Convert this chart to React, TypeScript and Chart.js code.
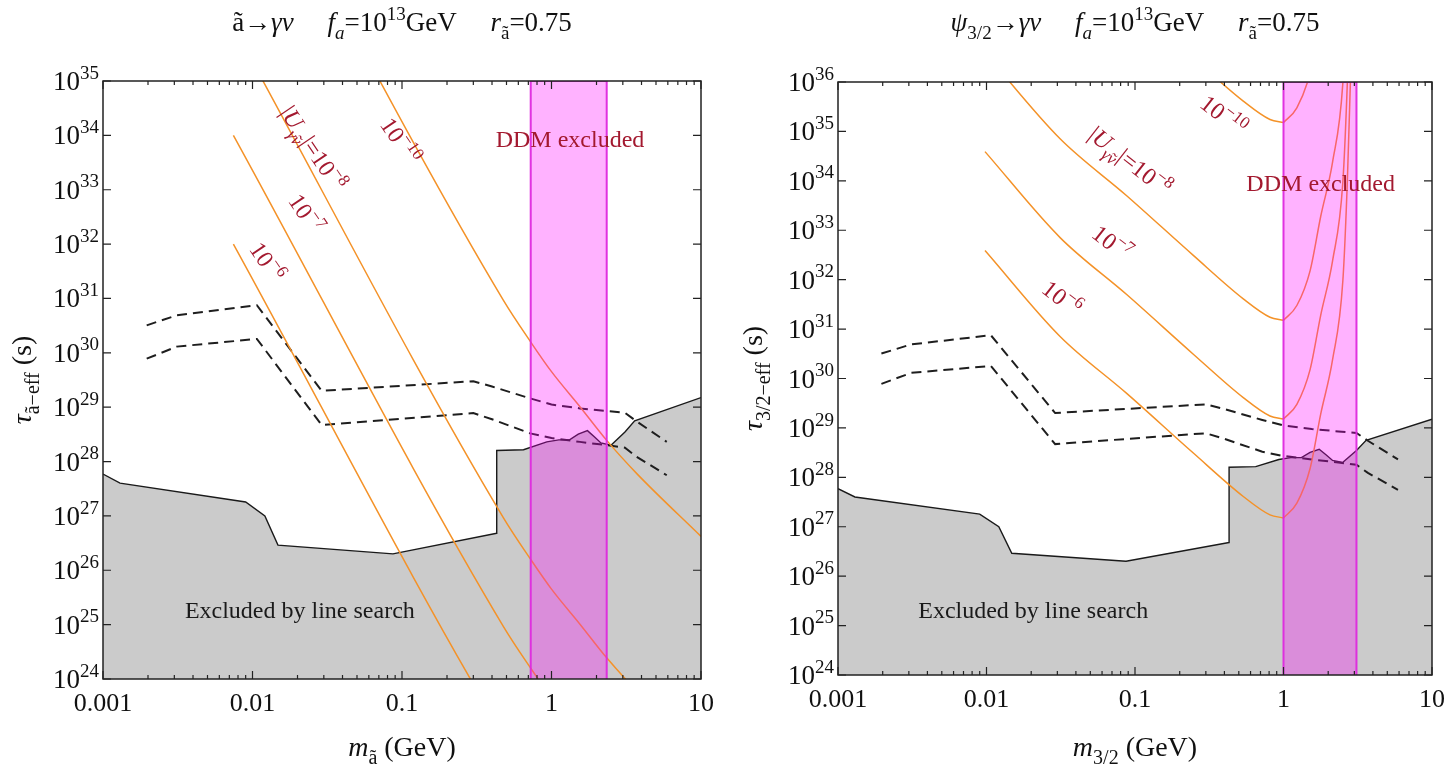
import React, { useEffect, useRef } from 'react';
import { Chart, registerables } from 'chart.js';

Chart.register(...registerables);

const FONT = '"Liberation Serif", "DejaVu Serif", serif';

// ---------- shared constraints (same in both panels) ----------
const boundaryMass = [0.001, 0.0013, 0.009, 0.0121, 0.0148, 0.087, 0.43, 0.4301, 0.65, 0.93, 1.12, 1.32, 1.51, 1.74, 1.95, 2.14, 2.5, 3.1, 3.6, 10];
const boundaryTau = [5.9e27, 4.0e27, 1.8e27, 1.0e27, 2.9e26, 2.0e26, 4.8e26, 1.6e28, 1.65e28, 2.3e28, 2.5e28, 2.5e28, 3.2e28, 3.7e28, 2.8e28, 2.2e28, 2.0e28, 3.5e28, 5.6e28, 1.5e29];

const dashedMass = [0.00196, 0.00311, 0.0107, 0.029, 0.3, 0.4, 0.72, 1.0, 1.55, 2.34, 3.1, 3.7, 5.9];
const dashedUpperTau = [3.2e30, 4.9e30, 7.5e30, 2.0e29, 3.0e29, 2.4e29, 1.45e29, 1.12e29, 9.5e28, 8.5e28, 7.9e28, 5.5e28, 2.3e28];
const dashedLowerTau = [7.8e29, 1.3e30, 1.8e30, 4.7e28, 7.8e28, 6.0e28, 3.3e28, 2.7e28, 2.3e28, 2.0e28, 1.8e28, 1.23e28, 5.6e27];

// ---------- left panel: axino ----------
const leftLineMass = [0.00745, 0.476, 0.738, 1.0, 1.55, 2.34, 3.72, 10];
const leftTauU10 = [1e40, 9.3e30, 1.48e30, 4.5e29, 1.02e29, 2.45e28, 6.0e27, 4.2e26];
const leftTauU8 = [1e36, 9.3e26, 1.48e26, 4.5e25, 1.02e25, 2.45e24, 6.0e23, 4.2e22];
const leftTauU7 = [1e34, 9.3e24, 1.48e24, 4.5e23, 1.02e23, 2.45e22, 6.0e21, 4.2e20];
const leftTauU6 = [1e32, 9.3e22, 1.48e22, 4.5e21, 1.02e21, 2.45e20, 6.0e19, 4.2e18];
const leftBand = [0.726, 2.34];
const leftYExponents = [24, 25, 26, 27, 28, 29, 30, 31, 32, 33, 34, 35];

// ---------- right panel: gravitino ----------
const rightLineMass = [0.00977, 0.0313, 0.0879, 0.247, 0.536, 0.811, 1.0, 1.23, 1.51, 1.78, 2.14, 2.51, 2.69, 2.82, 2.95];
const rightTauU6 = [3.9e32, 7.1e30, 5.0e29, 3.1e28, 4.1e27, 1.74e27, 1.51e27, 3.0e27, 1.51e28, 1.9e29, 2.4e30, 9.5e31, 9.5e33, 9.5e35, 1e38];
const rightTauU7 = [3.9e34, 7.1e32, 5.0e31, 3.1e30, 4.1e29, 1.74e29, 1.51e29, 3.0e29, 1.51e30, 1.9e31, 2.4e32, 9.5e33, 9.5e35, 9.5e37, 1e40];
const rightTauU8 = [3.9e36, 7.1e34, 5.0e33, 3.1e32, 4.1e31, 1.74e31, 1.51e31, 3.0e31, 1.51e32, 1.9e33, 2.4e34, 9.5e35, 9.5e37, 9.5e39, 1e42];
const rightTauU10 = [3.9e40, 7.1e38, 5.0e37, 3.1e36, 4.1e35, 1.74e35, 1.51e35, 3.0e35, 1.51e36, 1.9e37, 2.4e38, 9.5e39, 9.5e41, 9.5e43, 1e46];
const rightMinIndex = 6;
const rightBand = [1.0, 3.1];
const rightYExponents = [24, 25, 26, 27, 28, 29, 30, 31, 32, 33, 34, 35, 36];

// ---------- x axis ----------
const xTickValues = [0.001, 0.01, 0.1, 1, 10];
const xTickLabels = ['0.001', '0.01', '0.1', '1', '10'];

type Seg = { t: string; it?: boolean; sub?: boolean; sup?: boolean };

const ORANGE = 'rgb(244,146,40)';
const LABEL_RED = '#a3192f';

function pts(xs: number[], ys: number[]) {
  return xs.map((x, i) => ({ x, y: ys[i] }));
}

function segFont(s: Seg, size: number) {
  const sz = s.sub || s.sup ? Math.round(size * 0.7) : size;
  return `${s.it ? 'italic ' : ''}${sz}px ${FONT}`;
}

function drawRich(ctx: CanvasRenderingContext2D, segs: Seg[], x: number, y: number, size: number, align: string, color: string) {
  const widths: number[] = [];
  let w = 0;
  segs.forEach((s) => {
    ctx.font = segFont(s, size);
    const m = ctx.measureText(s.t).width;
    widths.push(m);
    w += m;
  });
  let cx = align === 'center' ? x - w / 2 : align === 'right' ? x - w : x;
  ctx.fillStyle = color;
  ctx.textAlign = 'left';
  ctx.textBaseline = 'alphabetic';
  segs.forEach((s, i) => {
    ctx.font = segFont(s, size);
    const dy = s.sub ? size * 0.28 : s.sup ? -size * 0.42 : 0;
    ctx.fillText(s.t, cx, y + dy);
    cx += widths[i];
  });
  return w;
}

type Ann = { x: number; y: number; angle: number; segs: Seg[]; size: number; align: string; color: string };

type PanelCfg = {
  yMax: number;
  yExps: number[];
  band: number[];
  padding: { left: number; right: number; top: number; bottom: number };
  title: Seg[];
  xTitle: Seg[];
  yTitle: Seg[];
  yTitleX: number;
  lines: { mass: number[]; tau: number[] }[];
  anns: Ann[];
};

function overlayPlugin(cfg: PanelCfg) {
  return {
    id: 'overlay',
    afterDraw(chart: any) {
      const ctx: CanvasRenderingContext2D = chart.ctx;
      const a = chart.chartArea;
      const xs = chart.scales.x;
      const ys = chart.scales.y;
      ctx.save();
      // frame
      ctx.strokeStyle = '#222';
      ctx.lineWidth = 1.5;
      ctx.strokeRect(a.left, a.top, a.right - a.left, a.bottom - a.top);
      // x ticks
      ctx.lineWidth = 1.2;
      xTickValues.forEach((v, i) => {
        const px = xs.getPixelForValue(v);
        ctx.beginPath();
        ctx.moveTo(px, a.bottom); ctx.lineTo(px, a.bottom - 8);
        ctx.moveTo(px, a.top); ctx.lineTo(px, a.top + 8);
        ctx.stroke();
        if (i < xTickValues.length - 1) {
          for (let k = 2; k <= 9; k++) {
            const mx = xs.getPixelForValue(v * k);
            ctx.beginPath();
            ctx.moveTo(mx, a.bottom); ctx.lineTo(mx, a.bottom - 4);
            ctx.moveTo(mx, a.top); ctx.lineTo(mx, a.top + 4);
            ctx.stroke();
          }
        }
        drawRich(ctx, [{ t: xTickLabels[i] }], px, a.bottom + 32, 26, 'center', '#111');
      });
      // y ticks
      cfg.yExps.forEach((e) => {
        const py = ys.getPixelForValue(Math.pow(10, e));
        ctx.strokeStyle = '#222';
        ctx.beginPath();
        ctx.moveTo(a.left, py); ctx.lineTo(a.left + 8, py);
        ctx.moveTo(a.right, py); ctx.lineTo(a.right - 8, py);
        ctx.stroke();
        drawRich(ctx, [{ t: '10' }, { t: String(e), sup: true }], a.left - 4, py + 9, 27, 'right', '#111');
      });
      // title
      drawRich(ctx, cfg.title, (a.left + a.right) / 2, 31, 27, 'center', '#111');
      // x title
      drawRich(ctx, cfg.xTitle, (a.left + a.right) / 2, 756, 28, 'center', '#111');
      // y title
      ctx.save();
      ctx.translate(cfg.yTitleX, (a.top + a.bottom) / 2);
      ctx.rotate(-Math.PI / 2);
      drawRich(ctx, cfg.yTitle, 0, 9, 28, 'center', '#111');
      ctx.restore();
      // annotations
      cfg.anns.forEach((an) => {
        const px = xs.getPixelForValue(an.x);
        const py = ys.getPixelForValue(an.y);
        ctx.save();
        ctx.translate(px, py);
        ctx.rotate((an.angle * Math.PI) / 180);
        drawRich(ctx, an.segs, 0, an.size * 0.33, an.size, an.align, an.color);
        ctx.restore();
      });
      ctx.restore();
    },
  };
}

function buildConfig(cfg: PanelCfg, splitIndex: number | null): any {
  const datasets: any[] = [];
  datasets.push({
    data: [
      { x: cfg.band[0], y: 1e24 },
      { x: cfg.band[0], y: cfg.yMax },
      { x: cfg.band[1], y: cfg.yMax },
      { x: cfg.band[1], y: 1e24 },
    ],
    fill: 'start',
    backgroundColor: 'rgba(255,0,255,0.3)',
    borderColor: 'rgba(222,40,222,0.95)',
    borderWidth: 2,
    pointRadius: 0,
    order: 0,
  });
  cfg.lines.forEach((ln) => {
    const parts =
      splitIndex === null
        ? [pts(ln.mass, ln.tau)]
        : [
            pts(ln.mass.slice(0, splitIndex + 1), ln.tau.slice(0, splitIndex + 1)),
            pts(ln.mass.slice(splitIndex), ln.tau.slice(splitIndex)),
          ];
    parts.forEach((p) =>
      datasets.push({
        data: p,
        borderColor: ORANGE,
        borderWidth: 1.5,
        pointRadius: 0,
        fill: false,
        cubicInterpolationMode: 'monotone',
        capBezierPoints: false,
        order: 1,
      })
    );
  });
  [dashedUpperTau, dashedLowerTau].forEach((t) =>
    datasets.push({
      data: pts(dashedMass, t),
      borderColor: '#1e1e1e',
      borderWidth: 2,
      borderDash: [10, 6],
      pointRadius: 0,
      fill: false,
      order: 2,
    })
  );
  datasets.push({
    data: pts(boundaryMass, boundaryTau),
    borderColor: '#1a1a1a',
    borderWidth: 1.4,
    backgroundColor: '#cbcbcb',
    fill: 'start',
    pointRadius: 0,
    order: 3,
  });
  return {
    type: 'line',
    data: { datasets },
    options: {
      animation: false,
      responsive: false,
      maintainAspectRatio: false,
      devicePixelRatio: 1,
      events: [],
      layout: { padding: cfg.padding },
      plugins: { legend: { display: false }, tooltip: { enabled: false }, title: { display: false } },
      scales: {
        x: { type: 'logarithmic', min: 0.001, max: 10, display: false },
        y: { type: 'logarithmic', min: 1e24, max: cfg.yMax, display: false },
      },
    },
    plugins: [overlayPlugin(cfg)],
  };
}

const GAP = '     ';

const leftCfg: PanelCfg = {
  yMax: 1e35,
  yExps: leftYExponents,
  band: leftBand,
  padding: { left: 103, right: 19, top: 81, bottom: 87 },
  title: [
    { t: 'ã→' }, { t: 'γν', it: true }, { t: GAP },
    { t: 'f', it: true }, { t: 'a', it: true, sub: true }, { t: '=10' }, { t: '13', sup: true }, { t: 'GeV' }, { t: GAP },
    { t: 'r', it: true }, { t: 'ã', sub: true }, { t: '=0.75' },
  ],
  xTitle: [{ t: 'm', it: true }, { t: 'ã', sub: true }, { t: ' (GeV)' }],
  yTitle: [{ t: 'τ', it: true }, { t: 'ã−eff', sub: true }, { t: ' (s)' }],
  yTitleX: 22,
  lines: [
    { mass: leftLineMass, tau: leftTauU10 },
    { mass: leftLineMass, tau: leftTauU8 },
    { mass: leftLineMass, tau: leftTauU7 },
    { mass: leftLineMass, tau: leftTauU6 },
  ],
  anns: [
    { x: 0.01245, y: 4.7e31, angle: 56, segs: [{ t: '10' }, { t: '−6', sup: true }], size: 24, align: 'center', color: LABEL_RED },
    { x: 0.0227, y: 3.6e32, angle: 56, segs: [{ t: '10' }, { t: '−7', sup: true }], size: 24, align: 'center', color: LABEL_RED },
    { x: 0.0254, y: 5.8e33, angle: 56, segs: [{ t: '|' }, { t: 'U', it: true }, { t: 'γ̃ν', sub: true, it: true }, { t: '|=10' }, { t: '−8', sup: true }], size: 24, align: 'center', color: LABEL_RED },
    { x: 0.097, y: 7.9e33, angle: 56, segs: [{ t: '10' }, { t: '−10', sup: true }], size: 24, align: 'center', color: LABEL_RED },
    { x: 1.33, y: 8.5e33, angle: 0, segs: [{ t: 'DDM excluded' }], size: 24, align: 'center', color: LABEL_RED },
    { x: 0.00353, y: 1.86e25, angle: 0, segs: [{ t: 'Excluded by line search' }], size: 24, align: 'left', color: '#1a1a1a' },
  ],
};

const rightCfg: PanelCfg = {
  yMax: 1e36,
  yExps: rightYExponents,
  band: rightBand,
  padding: { left: 118, right: 15, top: 82, bottom: 91 },
  title: [
    { t: 'ψ', it: true }, { t: '3/2', sub: true }, { t: '→' }, { t: 'γν', it: true }, { t: GAP },
    { t: 'f', it: true }, { t: 'a', it: true, sub: true }, { t: '=10' }, { t: '13', sup: true }, { t: 'GeV' }, { t: GAP },
    { t: 'r', it: true }, { t: 'ã', sub: true }, { t: '=0.75' },
  ],
  xTitle: [{ t: 'm', it: true }, { t: '3/2', sub: true }, { t: ' (GeV)' }],
  yTitle: [{ t: 'τ', it: true }, { t: '3/2−eff', sub: true }, { t: ' (s)' }],
  yTitleX: 33,
  lines: [
    { mass: rightLineMass, tau: rightTauU10 },
    { mass: rightLineMass, tau: rightTauU8 },
    { mass: rightLineMass, tau: rightTauU7 },
    { mass: rightLineMass, tau: rightTauU6 },
  ],
  anns: [
    { x: 0.0321, y: 4.2e31, angle: 38, segs: [{ t: '10' }, { t: '−6', sup: true }], size: 24, align: 'center', color: LABEL_RED },
    { x: 0.0697, y: 5.5e32, angle: 38, segs: [{ t: '10' }, { t: '−7', sup: true }], size: 24, align: 'center', color: LABEL_RED },
    { x: 0.0925, y: 2.5e34, angle: 38, segs: [{ t: '|' }, { t: 'U', it: true }, { t: 'γ̃ν', sub: true, it: true }, { t: '|=10' }, { t: '−8', sup: true }], size: 24, align: 'center', color: LABEL_RED },
    { x: 0.394, y: 2.1e35, angle: 38, segs: [{ t: '10' }, { t: '−10', sup: true }], size: 24, align: 'center', color: LABEL_RED },
    { x: 1.78, y: 8.9e33, angle: 0, segs: [{ t: 'DDM excluded' }], size: 24, align: 'center', color: LABEL_RED },
    { x: 0.00347, y: 2.1e25, angle: 0, segs: [{ t: 'Excluded by line search' }], size: 24, align: 'left', color: '#1a1a1a' },
  ],
};

export default function App() {
  const leftRef = useRef<HTMLCanvasElement>(null);
  const rightRef = useRef<HTMLCanvasElement>(null);
  useEffect(() => {
    const c1 = new Chart(leftRef.current as HTMLCanvasElement, buildConfig(leftCfg, null));
    const c2 = new Chart(rightRef.current as HTMLCanvasElement, buildConfig(rightCfg, rightMinIndex));
    return () => {
      c1.destroy();
      c2.destroy();
    };
  }, []);
  return (
    <div style={{ position: 'absolute', left: 0, top: 0, width: 1447, height: 766, background: '#fff', overflow: 'hidden' }}>
      <canvas ref={leftRef} width={720} height={766} style={{ position: 'absolute', left: 0, top: 0, width: 720, height: 766 }} />
      <canvas ref={rightRef} width={727} height={766} style={{ position: 'absolute', left: 720, top: 0, width: 727, height: 766 }} />
    </div>
  );
}
